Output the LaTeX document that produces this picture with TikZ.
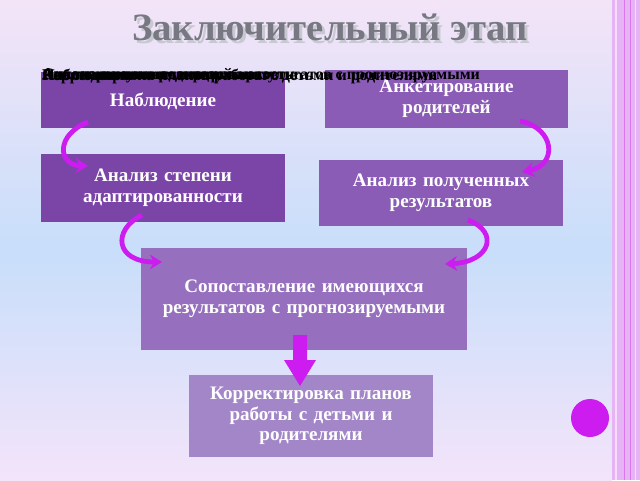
\documentclass[tikz,border=0pt]{standalone}
\usepackage{fontspec}
\setmainfont{Liberation Serif}
\usetikzlibrary{arrows.meta}
\definecolor{bA}{HTML}{7B45A8}
\definecolor{bB}{HTML}{8A5CB6}
\definecolor{bC}{HTML}{9670BE}
\definecolor{bD}{HTML}{A386C8}
\definecolor{mag}{HTML}{CC1CF0}
\definecolor{bgtop}{RGB}{244,228,248}
\definecolor{bgmid}{RGB}{200,222,250}
\definecolor{bgbot}{RGB}{243,228,250}
\definecolor{strip}{RGB}{230,180,245}
\definecolor{stripL}{RGB}{245,220,250}
\definecolor{stripD}{RGB}{215,120,235}
\definecolor{shadowc}{RGB}{200,200,210}
\definecolor{titlec}{RGB}{120,120,130}
\tikzset{
  box/.style={draw=none,minimum width=181.5pt,text width=176pt,align=center,text=white,font=\bfseries\fontsize{14.3}{15.5}\selectfont},
  carrow/.style={mag,line width=3.6pt,-{Stealth[length=9pt,width=11pt]}},
  junk/.style={anchor=west,font=\bfseries\fontsize{12}{12}\selectfont,inner sep=0pt}
}
\begin{document}
\begin{tikzpicture}[x=0.75pt,y=-0.75pt]
\useasboundingbox (0,0) rectangle (640,480);
\shade[top color=bgtop,bottom color=bgmid] (0,0) rectangle (612,250);
\shade[top color=bgmid,bottom color=bgbot] (0,250) rectangle (612,480);
\fill[strip] (612,0) rectangle (640,480);
\draw[stripL,line width=1.2pt] (616,0)--(616,480);
\draw[stripD,line width=0.6pt] (624,0)--(624,480) (630,0)--(630,480);
\draw[stripL,line width=0.6pt] (635,0)--(635,480);
\node[text=shadowc,font=\bfseries\fontsize{29}{32}\selectfont] at (333,30) {Заключительный этап};
\node[text=titlec,font=\bfseries\fontsize{29}{32}\selectfont] (title) at (330,27) {Заключительный этап};
\node[box,fill=bA,minimum height=42pt] (n1) at (163,100) {\\[-4pt]Наблюдение};
\node[box,fill=bB,minimum height=43.5pt] (n2) at (446.5,99) {Анкетирование\\родителей};
\node[box,fill=bA,minimum height=51pt] (n3) at (163,188) {Анализ степени\\адаптированности};
\node[box,fill=bB,minimum height=49.5pt] (n4) at (441,193) {Анализ полученных\\результатов};
\node[box,fill=bC,minimum width=243pt,text width=238pt,minimum height=76.5pt] (n5) at (304,299) {Сопоставление имеющихся\\результатов с прогнозируемыми};
\node[box,fill=bD,minimum height=62pt] (n6) at (311,416) {Корректировка планов\\работы с детьми и\\родителями};
\foreach \t in {Корректировка планов работы с детьми и родителями,Сопоставление имеющихся результатов с прогнозируемыми,Анализ полученных результатов,Анализ степени адаптированности,Анкетирование родителей,Наблюдение}
  \node[junk] at (42,76) {\t};
\coordinate (a1s) at (88,122); \coordinate (a1e) at (88,166);
\draw[carrow] (a1s) .. controls (55,135) and (58,165) .. (a1e);
\coordinate (a2s) at (520,121); \coordinate (a2e) at (522,172);
\draw[carrow] (a2s) .. controls (555,128) and (558,165) .. (a2e);
\coordinate (a3s) at (142,215); \coordinate (a3e) at (162,262);
\draw[carrow] (a3s) .. controls (112,230) and (115,262) .. (a3e);
\coordinate (a4s) at (468,220); \coordinate (a4e) at (445,264);
\draw[carrow] (a4s) .. controls (500,232) and (490,262) .. (a4e);
\fill[mag] (293,335) -- (307,335) -- (307,360) -- (316,360) -- (300,386) -- (284,360) -- (293,360) -- cycle;
\fill[mag] (590,418) circle (19);
\end{tikzpicture}
\end{document}
